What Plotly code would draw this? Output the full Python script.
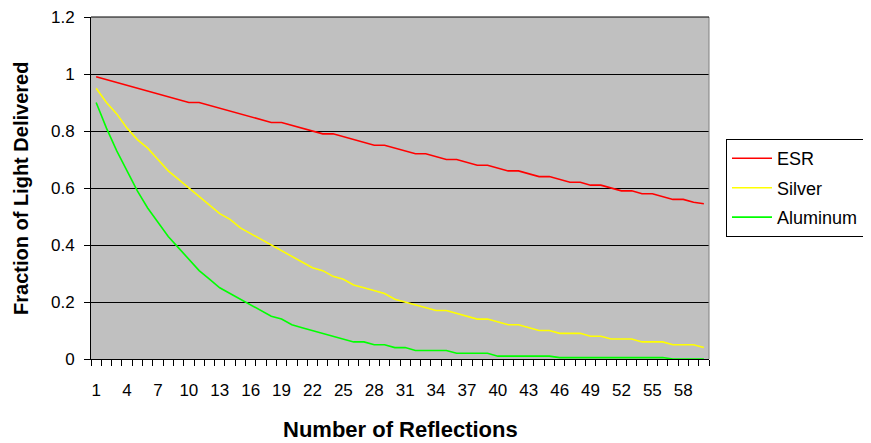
import plotly.graph_objects as go

reflections = list(range(1, 61))
esr = [0.99, 0.98, 0.97, 0.96, 0.95, 0.94, 0.93, 0.92, 0.91, 0.90,
       0.90, 0.89, 0.88, 0.87, 0.86, 0.85, 0.84, 0.83, 0.83, 0.82,
       0.81, 0.80, 0.79, 0.79, 0.78, 0.77, 0.76, 0.75, 0.75, 0.74,
       0.73, 0.72, 0.72, 0.71, 0.70, 0.70, 0.69, 0.68, 0.68, 0.67,
       0.66, 0.66, 0.65, 0.64, 0.64, 0.63, 0.62, 0.62, 0.61, 0.61,
       0.60, 0.59, 0.59, 0.58, 0.58, 0.57, 0.56, 0.56, 0.55, 0.545]
silver = [0.95, 0.90, 0.86, 0.81, 0.77, 0.74, 0.70, 0.66, 0.63, 0.60,
          0.57, 0.54, 0.51, 0.49, 0.46, 0.44, 0.42, 0.40, 0.38, 0.36,
          0.34, 0.32, 0.31, 0.29, 0.28, 0.26, 0.25, 0.24, 0.23, 0.21,
          0.20, 0.19, 0.18, 0.17, 0.17, 0.16, 0.15, 0.14, 0.14, 0.13,
          0.12, 0.12, 0.11, 0.10, 0.10, 0.09, 0.09, 0.09, 0.08, 0.08,
          0.07, 0.07, 0.07, 0.06, 0.06, 0.06, 0.05, 0.05, 0.05, 0.04]
aluminum = [0.90, 0.81, 0.73, 0.66, 0.59, 0.53, 0.48, 0.43, 0.39, 0.35,
            0.31, 0.28, 0.25, 0.23, 0.21, 0.19, 0.17, 0.15, 0.14, 0.12,
            0.11, 0.10, 0.09, 0.08, 0.07, 0.06, 0.06, 0.05, 0.05, 0.04,
            0.04, 0.03, 0.03, 0.03, 0.03, 0.02, 0.02, 0.02, 0.02, 0.01,
            0.01, 0.01, 0.01, 0.01, 0.01, 0.005, 0.005, 0.005, 0.005, 0.005,
            0.005, 0.005, 0.005, 0.005, 0.005, 0.005, 0.0, 0.0, 0.0, 0.0]
x_ticks = list(range(1, 61, 3))
y_ticks = [0, 0.2, 0.4, 0.6, 0.8, 1.0, 1.2]
y_labels = ["0", "0.2", "0.4", "0.6", "0.8", "1", "1.2"]
x_title = "Number of Reflections"
y_title = "Fraction of Light Delivered"

fig = go.Figure()
for name, vals, col in [("ESR", esr, "#FF0000"),
                        ("Silver", silver, "#FFFF00"),
                        ("Aluminum", aluminum, "#00FF00")]:
    fig.add_trace(go.Scatter(x=reflections, y=vals, name=name, mode="lines",
                             legendgroup=name,
                             line=dict(color=col, width=1.6)))

font = "Liberation Sans, Arial, sans-serif"
fig.update_layout(
    width=863, height=435,
    margin=dict(l=83, r=162, t=9, b=84, autoexpand=False),
    paper_bgcolor="white", plot_bgcolor="#C0C0C0",
    font=dict(family=font, size=16, color="black"),
    showlegend=True,
    legend=dict(x=1.0275, y=0.643, xanchor="left", yanchor="top",
                bordercolor="black", borderwidth=1, bgcolor="white",
                font=dict(size=18), tracegroupgap=3, itemwidth=40),
    xaxis=dict(range=[0.5, 60.5], tickmode="array", tickvals=x_ticks,
               ticks="", showgrid=False, zeroline=False,
               showline=True, linecolor="black", linewidth=1,
               tickfont=dict(size=17), ticklabelstandoff=16,
               minor=dict(tick0=0.5, dtick=1, ticks="outside", ticklen=6,
                          tickcolor="black", showgrid=False)),
    yaxis=dict(range=[0, 1.2], tickmode="array", tickvals=y_ticks,
               ticktext=y_labels, ticks="outside", ticklen=6, tickcolor="black",
               showgrid=True, gridcolor="black", gridwidth=1, zeroline=False,
               showline=True, linecolor="black", linewidth=1,
               tickfont=dict(size=17), ticklabelstandoff=6,
               ticklabeloverflow="allow"),
)
fig.add_annotation(text="<b>" + x_title + "</b>", xref="paper", yref="paper",
                   x=0.5, y=-0.2076, xanchor="center", yanchor="middle",
                   showarrow=False, font=dict(size=22))
fig.add_annotation(text="<b>" + y_title + "</b>", xref="paper", yref="paper",
                   x=-0.1133, y=0.5, xanchor="center", yanchor="middle",
                   textangle=-90, showarrow=False, font=dict(size=20))
fig.add_shape(type="line", xref="paper", yref="paper", x0=1, x1=1, y0=0, y1=1,
              line=dict(color="#808080", width=1))
fig.add_shape(type="line", xref="paper", yref="paper", x0=0, x1=1, y0=1, y1=1,
              line=dict(color="black", width=1))
fig.write_html("out.html")
